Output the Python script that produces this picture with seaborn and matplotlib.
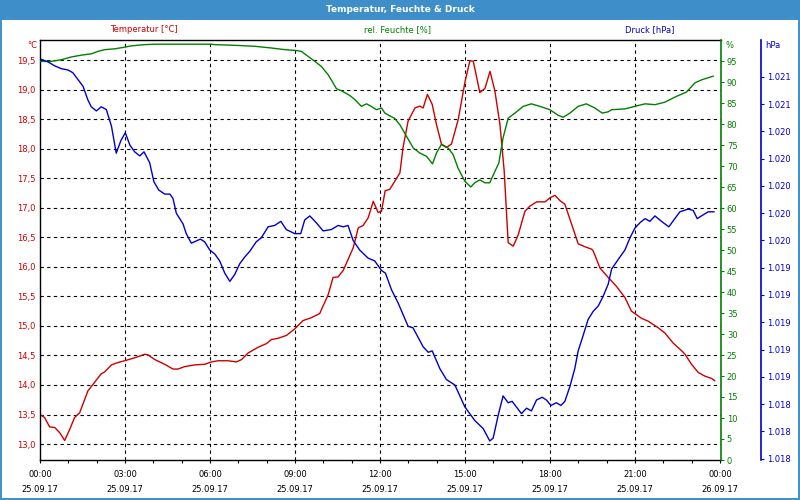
import pandas as pd
import matplotlib
matplotlib.use("Agg")
import matplotlib.pyplot as plt
import seaborn as sns
from matplotlib.patches import Rectangle
from matplotlib.ticker import FixedLocator, MultipleLocator

# -----------------------------
# Data (hours since 25.09.17 00:00)
# -----------------------------
temp_h = [0.0, 0.16, 0.34, 0.52, 0.70, 0.87, 1.05, 1.22, 1.40, 1.69, 1.87, 2.16, 2.28, 2.52,
          2.75, 2.99, 3.34, 3.70, 3.81, 4.05, 4.40, 4.69, 4.87, 5.10, 5.46, 5.81, 6.05, 6.28,
          6.64, 6.93, 7.11, 7.34, 7.70, 7.99, 8.17, 8.40, 8.70, 8.99, 9.28, 9.58, 9.87, 10.17,
          10.34, 10.52, 10.70, 11.05, 11.23, 11.40, 11.58, 11.76, 11.93, 12.05, 12.18, 12.34,
          12.52, 12.70, 12.81, 12.99, 13.23, 13.40, 13.52, 13.67, 13.84, 13.99, 14.17, 14.34,
          14.52, 14.76, 15.00, 15.17, 15.29, 15.52, 15.70, 15.88, 16.05, 16.23, 16.38, 16.52,
          16.70, 16.88, 17.11, 17.29, 17.53, 17.82, 18.00, 18.17, 18.35, 18.52, 18.76, 18.99,
          19.23, 19.46, 19.52, 19.76, 20.05, 20.34, 20.64, 20.87, 21.22, 21.46, 21.81, 22.05,
          22.34, 22.64, 22.76, 22.99, 23.23, 23.46, 23.70, 23.81]
temp_c = [13.50, 13.45, 13.29, 13.28, 13.19, 13.06, 13.25, 13.45, 13.53, 13.90, 14.01, 14.19,
          14.22, 14.34, 14.38, 14.41, 14.46, 14.52, 14.51, 14.43, 14.35, 14.27, 14.27, 14.31,
          14.34, 14.35, 14.39, 14.41, 14.41, 14.39, 14.43, 14.54, 14.64, 14.70, 14.77, 14.79,
          14.84, 14.95, 15.09, 15.14, 15.21, 15.53, 15.82, 15.83, 15.94, 16.32, 16.66, 16.70,
          16.83, 17.11, 16.92, 16.94, 17.29, 17.31, 17.45, 17.59, 18.02, 18.47, 18.69, 18.72,
          18.69, 18.92, 18.75, 18.41, 18.07, 18.02, 18.08, 18.50, 19.14, 19.49, 19.48, 18.95,
          19.02, 19.31, 18.98, 18.41, 17.62, 16.41, 16.35, 16.55, 16.94, 17.03, 17.10, 17.10,
          17.17, 17.21, 17.12, 17.06, 16.72, 16.39, 16.34, 16.30, 16.27, 15.98, 15.82, 15.67,
          15.48, 15.25, 15.13, 15.08, 14.97, 14.88, 14.71, 14.58, 14.52, 14.35, 14.21, 14.15,
          14.11, 14.07]

hum_h = [0.02, 0.40, 0.75, 1.10, 1.46, 1.81, 2.05, 2.28, 2.64, 2.99, 3.22, 3.70, 4.05, 6.04,
         6.17, 6.99, 7.58, 8.16, 8.64, 9.05, 9.22, 9.46, 9.70, 9.93, 10.17, 10.34, 10.46, 10.64,
         10.93, 11.11, 11.34, 11.52, 11.69, 11.87, 12.05, 12.17, 12.52, 12.70, 12.93, 13.17,
         13.40, 13.64, 13.85, 13.99, 14.17, 14.40, 14.58, 14.75, 14.99, 15.20, 15.34, 15.52,
         15.70, 15.87, 16.05, 16.19, 16.34, 16.52, 16.76, 17.05, 17.34, 17.64, 17.99, 18.28,
         18.46, 18.70, 18.99, 19.28, 19.58, 19.84, 20.05, 20.17, 20.64, 20.99, 21.35, 21.70,
         22.05, 22.40, 22.81, 23.11, 23.34, 23.76]
hum_pct = [94.9, 94.9, 95.3, 95.95, 96.4, 96.7, 97.3, 97.7, 97.9, 98.3, 98.6, 98.9, 99.0, 99.0,
           98.9, 98.7, 98.5, 98.1, 97.7, 97.5, 97.3, 96.1, 94.9, 93.7, 91.7, 89.8, 88.4, 87.9,
           86.8, 85.8, 84.2, 84.8, 84.2, 83.4, 83.8, 82.6, 81.3, 79.8, 77.1, 74.3, 73.1, 72.3,
           70.5, 73.1, 75.2, 74.3, 72.7, 69.5, 66.4, 65.0, 66.0, 66.7, 66.0, 66.0, 68.7, 70.7,
           76.7, 81.4, 82.6, 84.2, 84.8, 84.2, 83.4, 82.1, 81.6, 82.6, 84.2, 84.8, 83.8, 82.6,
           82.9, 83.4, 83.6, 84.2, 84.8, 84.6, 85.2, 86.4, 87.6, 89.8, 90.5, 91.4]

pres_h = [0.02, 0.28, 0.52, 0.75, 0.99, 1.16, 1.34, 1.52, 1.69, 1.81, 1.99, 2.16, 2.34, 2.52,
          2.69, 2.85, 3.01, 3.17, 3.34, 3.52, 3.67, 3.87, 4.02, 4.19, 4.40, 4.58, 4.69, 4.81,
          5.05, 5.16, 5.34, 5.66, 5.81, 5.99, 6.17, 6.34, 6.52, 6.70, 6.87, 7.05, 7.23, 7.40,
          7.63, 7.81, 8.05, 8.28, 8.50, 8.69, 8.99, 9.20, 9.34, 9.52, 9.75, 9.99, 10.28, 10.52,
          10.70, 10.87, 11.05, 11.28, 11.58, 11.81, 12.05, 12.19, 12.40, 12.64, 12.99, 13.16,
          13.52, 13.70, 13.84, 14.11, 14.34, 14.64, 14.99, 15.34, 15.64, 15.87, 15.99, 16.17,
          16.34, 16.52, 16.66, 16.99, 17.17, 17.34, 17.52, 17.72, 17.87, 18.03, 18.22, 18.38,
          18.52, 18.70, 18.87, 18.99, 19.13, 19.34, 19.52, 19.70, 19.87, 20.05, 20.17, 20.40,
          20.64, 20.82, 20.99, 21.17, 21.35, 21.52, 21.70, 21.93, 22.19, 22.40, 22.58, 22.87,
          23.05, 23.19, 23.34, 23.58, 23.79]
pres_hpa = [1020.88, 1020.86, 1020.83, 1020.81, 1020.80, 1020.78, 1020.73, 1020.68, 1020.58,
            1020.53, 1020.50, 1020.53, 1020.51, 1020.39, 1020.19, 1020.28, 1020.34, 1020.25,
            1020.20, 1020.17, 1020.20, 1020.12, 1019.98, 1019.92, 1019.89, 1019.89, 1019.86,
            1019.75, 1019.67, 1019.60, 1019.53, 1019.56, 1019.54, 1019.48, 1019.45, 1019.40,
            1019.31, 1019.25, 1019.30, 1019.38, 1019.43, 1019.47, 1019.54, 1019.57, 1019.65,
            1019.66, 1019.69, 1019.63, 1019.60, 1019.60, 1019.70, 1019.73, 1019.68, 1019.62,
            1019.63, 1019.66, 1019.65, 1019.66, 1019.55, 1019.48, 1019.42, 1019.40, 1019.33,
            1019.31, 1019.19, 1019.09, 1018.92, 1018.91, 1018.77, 1018.73, 1018.74, 1018.61,
            1018.53, 1018.49, 1018.33, 1018.23, 1018.17, 1018.08, 1018.10, 1018.27, 1018.41,
            1018.36, 1018.37, 1018.28, 1018.32, 1018.30, 1018.38, 1018.40, 1018.38, 1018.34,
            1018.36, 1018.34, 1018.37, 1018.48, 1018.61, 1018.74, 1018.83, 1018.97, 1019.03,
            1019.07, 1019.14, 1019.23, 1019.34, 1019.41, 1019.48, 1019.57, 1019.64, 1019.68,
            1019.71, 1019.69, 1019.73, 1019.69, 1019.65, 1019.71, 1019.76, 1019.78, 1019.77,
            1019.71, 1019.73, 1019.76, 1019.76]

x_ticks = [0, 3, 6, 9, 12, 15, 18, 21, 24]
x_labels = ["00:00\n25.09.17", "03:00\n25.09.17", "06:00\n25.09.17", "09:00\n25.09.17",
            "12:00\n25.09.17", "15:00\n25.09.17", "18:00\n25.09.17", "21:00\n25.09.17",
            "00:00\n26.09.17"]
temp_ticks = [13.0, 13.5, 14.0, 14.5, 15.0, 15.5, 16.0, 16.5, 17.0, 17.5, 18.0, 18.5, 19.0, 19.5]
hum_ticks = list(range(0, 100, 5))
pres_ticks = [1017.95, 1018.15, 1018.35, 1018.55, 1018.75, 1018.95, 1019.15, 1019.35,
              1019.55, 1019.75, 1019.95, 1020.15, 1020.35, 1020.55, 1020.75]

temp_df = pd.DataFrame({"h": temp_h, "v": temp_c})
hum_df = pd.DataFrame({"h": hum_h, "v": hum_pct})
pres_df = pd.DataFrame({"h": pres_h, "v": pres_hpa})

# -----------------------------
# Style
# -----------------------------
sns.set_style("white")
plt.rcParams["font.family"] = ["DejaVu Sans"]
plt.rcParams["font.size"] = 6

RED = "#cc0000"
GREEN = "#008000"
BLUE = "#0000cc"
FRAME = "#3d8ec9"
FS = 6

fig = plt.figure(figsize=(8, 5), dpi=100)
fig.patch.set_facecolor("white")

# window frame + title bar
fig.patches.append(Rectangle((0, 1 - 19 / 500), 1, 19 / 500, transform=fig.transFigure,
                             facecolor=FRAME, edgecolor="none", zorder=0))
fig.patches.append(Rectangle((0.5 / 800, 1.5 / 500), 1 - 2 / 800, 1 - 20 / 500,
                             transform=fig.transFigure, facecolor="none",
                             edgecolor=FRAME, lw=1.4, zorder=0))
fig.text(0.5, 1 - 9.5 / 500, "Temperatur, Feuchte & Druck", color="white",
         fontsize=6.5, fontweight="bold", ha="center", va="center")

ax = fig.add_axes([40 / 800, 40 / 500, 681 / 800, 420 / 500])
ax_h = ax.twinx()
ax_p = ax.twinx()

sns.lineplot(data=temp_df, x="h", y="v", ax=ax, color=RED, lw=1.0)
sns.lineplot(data=hum_df, x="h", y="v", ax=ax_h, color=GREEN, lw=1.0)
sns.lineplot(data=pres_df, x="h", y="v", ax=ax_p, color=BLUE, lw=1.0)

# x axis
ax.set_xlim(0, 24.03)
ax.set_xticks(x_ticks)
ax.set_xticklabels(x_labels, fontsize=FS, linespacing=1.9)
ax.xaxis.set_minor_locator(MultipleLocator(1))
ax.tick_params(axis="x", which="both", direction="out", length=2.2, width=0.8,
               color="black", pad=5, bottom=True)
for lab in ax.get_xticklabels():
    lab.set_color("black")

# temperature axis
ax.set_ylim(12.73, 19.84)
ax.set_yticks(temp_ticks)
ax.set_yticklabels([f"{t:.1f}".replace(".", ",") for t in temp_ticks], color=RED, fontsize=FS)
ax.tick_params(axis="y", length=0, pad=3)
ax.set_xlabel("")
ax.set_ylabel("")
dash = (0, (3, 3))
for t in temp_ticks:
    ax.axhline(t, color="black", lw=0.8, ls=dash, zorder=0.5)
for t in x_ticks[1:-1]:
    ax.axvline(t, color="black", lw=0.8, ls=dash, zorder=0.5)

# humidity axis
ax_h.set_ylim(0, 100)
ax_h.yaxis.set_major_locator(FixedLocator(hum_ticks))
ax_h.set_yticklabels([str(v) for v in hum_ticks], color=GREEN, fontsize=FS)
ax_h.tick_params(axis="y", direction="out", length=2.2, width=0.8, color=GREEN, pad=2)
ax_h.set_ylabel("")

# pressure axis (40 px right of the humidity axis)
ax_p.set_ylim(1017.94, 1021.02)
ax_p.spines["right"].set_position(("outward", 28.8))
ax_p.yaxis.set_major_locator(FixedLocator(pres_ticks))
ax_p.set_yticklabels([f"{v / 1000:.3f}" for v in pres_ticks], color=BLUE, fontsize=FS)
ax_p.tick_params(axis="y", direction="out", length=2.2, width=0.8, color=BLUE, pad=2)
ax_p.set_ylabel("")

for a in (ax, ax_h, ax_p):
    for s in a.spines.values():
        s.set_visible(False)
    a.patch.set_visible(False)
for side in ("left", "top", "bottom"):
    ax.spines[side].set_visible(True)
    ax.spines[side].set_color("black")
    ax.spines[side].set_linewidth(1.0)
ax_h.spines["right"].set_visible(True)
ax_h.spines["right"].set_color(GREEN)
ax_h.spines["right"].set_linewidth(1.2)
ax_p.spines["right"].set_visible(True)
ax_p.spines["right"].set_color(BLUE)
ax_p.spines["right"].set_linewidth(1.2)

# header labels and units
fig.text(144 / 800, 1 - 30 / 500, "Temperatur [°C]", color=RED, fontsize=FS,
         ha="center", va="center")
fig.text(398 / 800, 1 - 30 / 500, "rel. Feuchte [%]", color=GREEN, fontsize=FS,
         ha="center", va="center")
fig.text(650 / 800, 1 - 30 / 500, "Druck [hPa]", color=BLUE, fontsize=FS,
         ha="center", va="center")
fig.text(37 / 800, 1 - 45 / 500, "°C", color=RED, fontsize=FS, ha="right", va="center")
fig.text(725 / 800, 1 - 45 / 500, "%", color=GREEN, fontsize=FS, ha="left", va="center")
fig.text(765 / 800, 1 - 45 / 500, "hPa", color=BLUE, fontsize=FS, ha="left", va="center")

plt.savefig("out.png", dpi=100)
plt.close()
